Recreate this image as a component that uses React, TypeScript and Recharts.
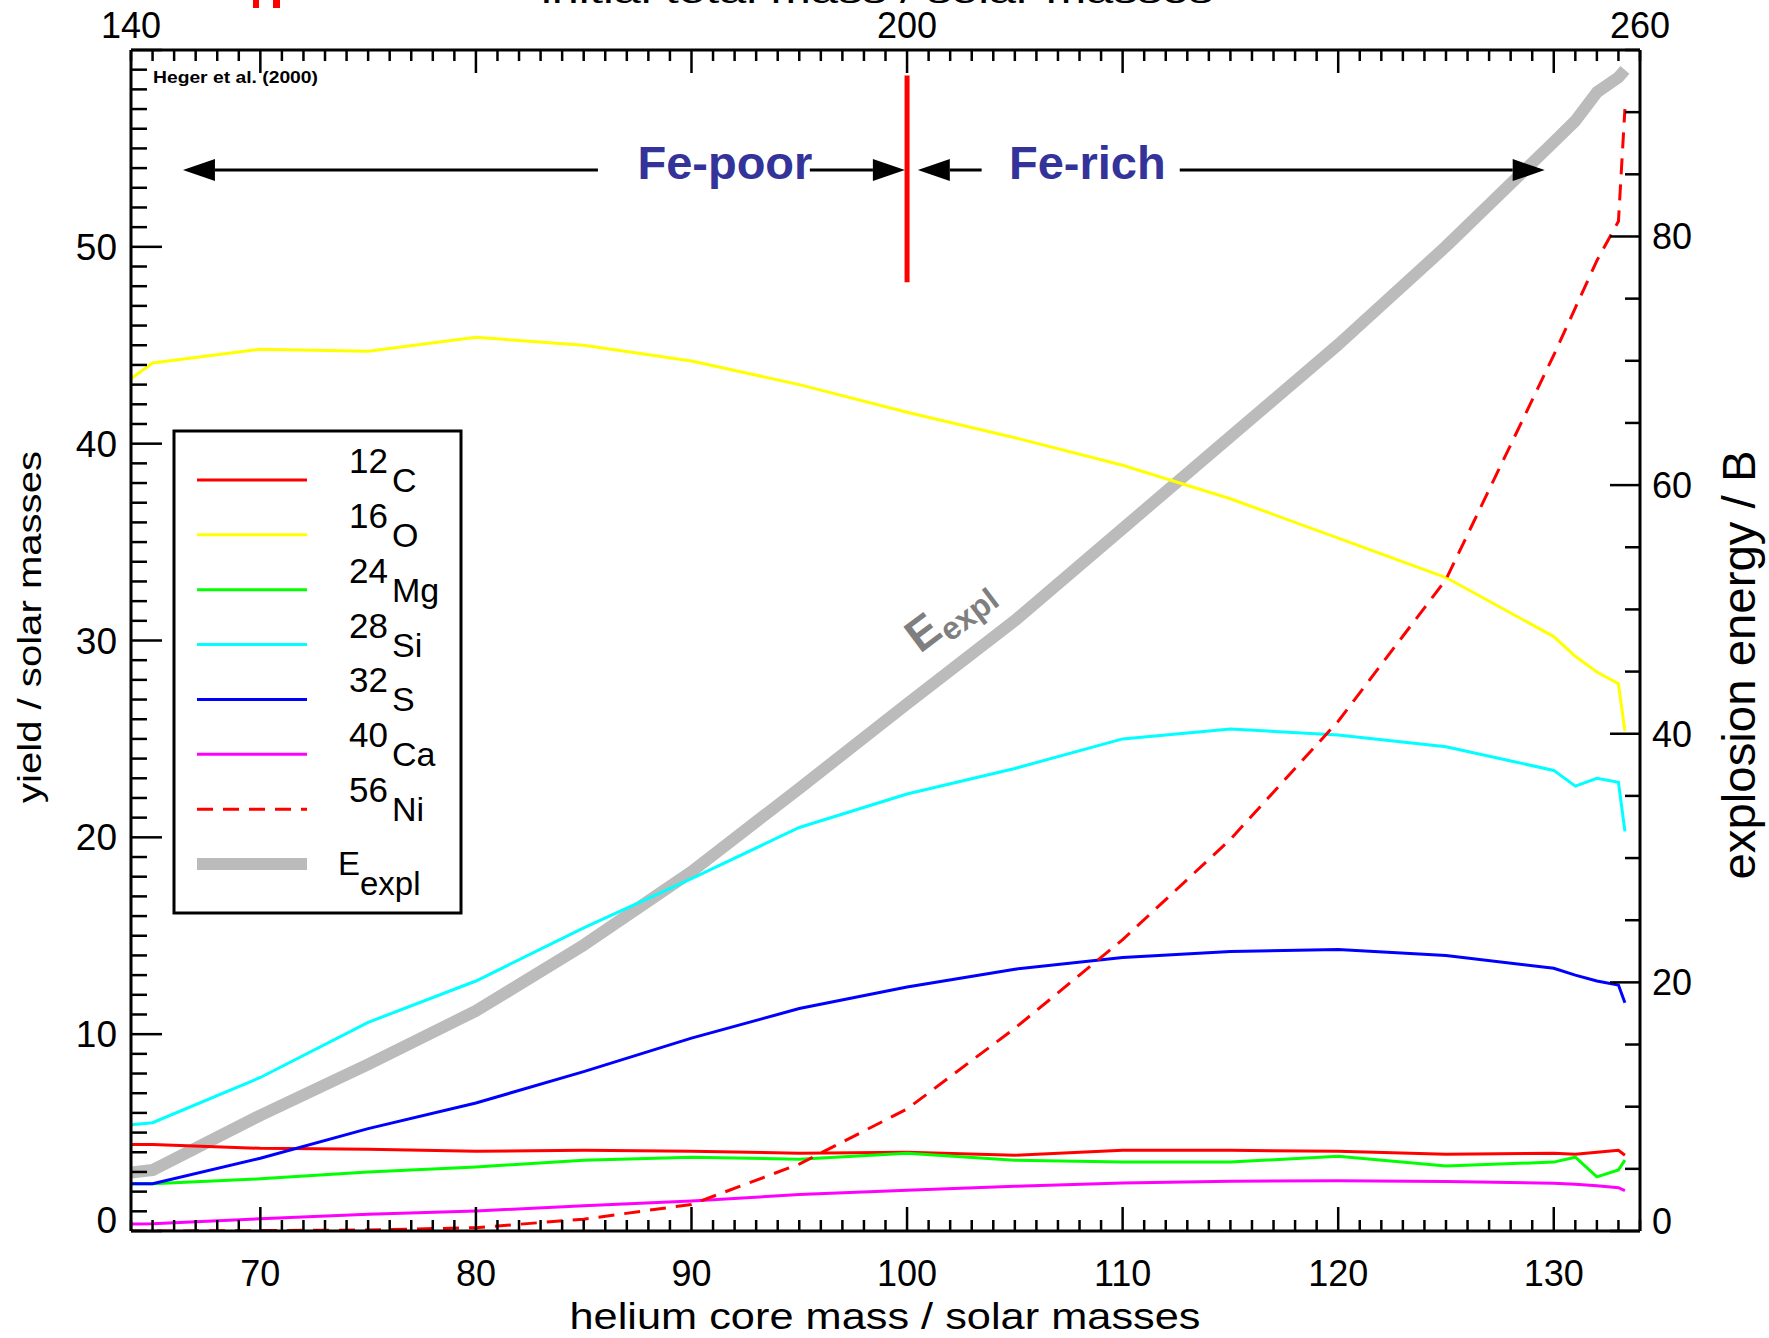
import { LineChart, Line, XAxis, YAxis, ReferenceLine, ReferenceDot } from 'recharts';

// helium core mass of each model (solar masses)
const heliumMass = [64, 65, 70, 75, 80, 85, 90, 95, 100, 105, 110, 115, 120, 125, 130, 131, 132, 133, 133.3];

// yields / solar masses
const c12 = [4.4, 4.4, 4.2, 4.15, 4.05, 4.1, 4.05, 3.95, 4.0, 3.85, 4.1, 4.1, 4.05, 3.9, 3.95, 3.9, 4.0, 4.1, 3.85];
const o16 = [43.3, 44.1, 44.8, 44.7, 45.4, 45.0, 44.2, 43.0, 41.6, 40.3, 38.9, 37.2, 35.2, 33.2, 30.2, 29.2, 28.4, 27.8, 25.4];
const mg24 = [2.4, 2.4, 2.65, 3.0, 3.25, 3.6, 3.75, 3.65, 3.95, 3.6, 3.5, 3.5, 3.8, 3.3, 3.5, 3.75, 2.75, 3.1, 3.6];
const si28 = [5.4, 5.5, 7.8, 10.6, 12.7, 15.4, 17.9, 20.5, 22.2, 23.5, 25.0, 25.5, 25.2, 24.6, 23.4, 22.6, 23.0, 22.8, 20.3];
const s32 = [2.4, 2.4, 3.7, 5.2, 6.5, 8.1, 9.8, 11.3, 12.4, 13.3, 13.9, 14.2, 14.3, 14.0, 13.35, 13.0, 12.7, 12.5, 11.6];
const ca40 = [0.35, 0.37, 0.62, 0.85, 1.02, 1.28, 1.52, 1.85, 2.07, 2.27, 2.44, 2.53, 2.55, 2.52, 2.43, 2.38, 2.3, 2.2, 2.05];
const ni56 = [0, 0, 0.02, 0.05, 0.17, 0.6, 1.35, 3.4, 6.2, 10.3, 14.8, 19.9, 25.9, 33.1, 44.5, 46.9, 49.3, 51.3, 57.0];

// explosion energy / B (right axis)
const eExpl = [4.7, 4.9, 9.3, 13.4, 17.7, 23.0, 28.9, 35.6, 42.4, 49.1, 56.5, 63.9, 71.3, 79.2, 87.6, 89.3, 91.6, 92.8, 93.4];

// axis ticks
const bottomLabels = [70, 80, 90, 100, 110, 120, 130];
const topLabels: Record<number, string> = { 64: '140', 100: '200', 134: '260' };
const leftLabels = [0, 10, 20, 30, 40, 50];
const rightLabels = [0, 20, 40, 60, 80];

const range = (a: number, b: number, step = 1) => {
    const out: number[] = [];
    for (let v = a; v <= b; v += step) out.push(v);
    return out;
};
const xTicks = range(64, 134);
const leftTicks = range(0, 60);
const rightTicks = range(0, 95, 5);

const isotopes = [
    { key: 'c12', num: '12', el: 'C', color: '#ff0000', values: c12, dash: undefined as string | undefined },
    { key: 'o16', num: '16', el: 'O', color: '#ffff00', values: o16, dash: undefined },
    { key: 'mg24', num: '24', el: 'Mg', color: '#00ff00', values: mg24, dash: undefined },
    { key: 'si28', num: '28', el: 'Si', color: '#00ffff', values: si28, dash: undefined },
    { key: 's32', num: '32', el: 'S', color: '#0000ff', values: s32, dash: undefined },
    { key: 'ca40', num: '40', el: 'Ca', color: '#ff00ff', values: ca40, dash: undefined },
    { key: 'ni56', num: '56', el: 'Ni', color: '#ff0000', values: ni56, dash: '16 10' },
];

const rows = heliumMass.map((m, i) => {
    const row: Record<string, number> = { m, eExpl: eExpl[i] };
    isotopes.forEach((s) => (row[s.key] = s.values[i]));
    return row;
});

const FONT = "'Liberation Sans', Arial, Helvetica, sans-serif";
const TICK_W = 2.5;

const BottomTick = (p: any) => {
    const v = p.payload.value;
    const major = v % 10 === 0;
    return (
        <g>
            <line x1={p.x} x2={p.x} y1={p.y} y2={p.y - (major ? 24 : 11)} stroke="#000" strokeWidth={TICK_W} />
            {bottomLabels.includes(v) && (
                <text x={p.x} y={p.y + 55} textAnchor="middle" fontSize={36} fontFamily={FONT} fill="#000">
                    {v}
                </text>
            )}
        </g>
    );
};

const TopTick = (p: any) => {
    const v = p.payload.value;
    const major = v % 10 === 0;
    return (
        <g>
            <line x1={p.x} x2={p.x} y1={p.y} y2={p.y + (major ? 23 : 11)} stroke="#000" strokeWidth={TICK_W} />
            {topLabels[v] && (
                <text x={p.x} y={p.y - 12} textAnchor="middle" fontSize={36} fontFamily={FONT} fill="#000">
                    {topLabels[v]}
                </text>
            )}
        </g>
    );
};

const LeftTick = (p: any) => {
    const v = p.payload.value;
    const major = v % 10 === 0;
    return (
        <g>
            <line x1={p.x} x2={p.x + (major ? 31 : 16)} y1={p.y} y2={p.y} stroke="#000" strokeWidth={TICK_W} />
            {leftLabels.includes(v) && (
                <text x={p.x - 14} y={p.y + 13 - (v === 0 ? 11 : 0)} textAnchor="end" fontSize={37} fontFamily={FONT} fill="#000">
                    {v}
                </text>
            )}
        </g>
    );
};

const RightTick = (p: any) => {
    const v = p.payload.value;
    const major = v % 20 === 0;
    return (
        <g>
            <line x1={p.x} x2={p.x - (major ? 30 : 15)} y1={p.y} y2={p.y} stroke="#000" strokeWidth={TICK_W} />
            {rightLabels.includes(v) && (
                <text x={p.x + 12} y={p.y + 13 - (v === 0 ? 10 : 0)} textAnchor="start" fontSize={36} fontFamily={FONT} fill="#000">
                    {v}
                </text>
            )}
        </g>
    );
};

// horizontal line ending in a filled arrow head at (x2, y2)
const Arrow = (p: any) => {
    const { x1, y1, x2, y2 } = p;
    const dir = Math.sign(x2 - x1);
    const base = x2 - dir * 32;
    return (
        <g>
            <line x1={x1} y1={y1} x2={base} y2={y2} stroke="#000" strokeWidth={3} />
            <polygon points={`${x2},${y2} ${base},${y2 - 11} ${base},${y2 + 11}`} fill="#000" />
        </g>
    );
};

const RegionLabel = (text: string) => (p: any) => (
    <text x={p.cx} y={p.cy + 9} textAnchor="middle" fontSize={47} fontWeight="bold" fontFamily={FONT} fill="#333399">
        {text}
    </text>
);

const HegerLabel = (p: any) => (
    <text x={p.cx} y={p.cy} fontSize={16} fontWeight="bold" fontFamily={FONT} fill="#000" textLength={165} lengthAdjust="spacingAndGlyphs">
        Heger et al. (2000)
    </text>
);

const EnergyLabel = (p: any) => (
    <g transform={`translate(${p.cx},${p.cy}) rotate(-37)`}>
        <text x={0} y={0} fontSize={46} fontWeight="bold" fontFamily={FONT} fill="#7f7f7f">
            E<tspan fontSize={32} dy={9}>expl</tspan>
        </text>
    </g>
);

const ARROW_Y = 53.9;

const LegendBox = () => {
    const top = 431;
    const rowY = (i: number) => 480 + i * 54.86;
    return (
        <g>
            <rect x={174} y={top} width={287} height={482} fill="#fff" stroke="#000" strokeWidth={3} />
            {isotopes.map((s, i) => (
                <g key={s.key}>
                    <line x1={197} x2={307} y1={rowY(i)} y2={rowY(i)} stroke={s.color} strokeWidth={3} strokeDasharray={s.dash} />
                    <text x={349} y={rowY(i) - 7} fontSize={35} fontFamily={FONT} fill="#000">{s.num}</text>
                    <text x={392} y={rowY(i) + 12} fontSize={34} fontFamily={FONT} fill="#000">{s.el}</text>
                </g>
            ))}
            <line x1={197} x2={307} y1={rowY(7)} y2={rowY(7)} stroke="#bbbbbb" strokeWidth={12} />
            <text x={338} y={rowY(7) + 11} fontSize={33} fontFamily={FONT} fill="#000">E</text>
            <text x={360} y={rowY(7) + 31} fontSize={33} fontFamily={FONT} fill="#000">expl</text>
        </g>
    );
};

export default function App() {
    return (
        <div style={{ position: 'absolute', left: 0, top: 0, width: 1769, height: 1338, background: '#fff', overflow: 'hidden' }}>
            <LineChart width={1769} height={1338} data={rows} margin={{ top: 0, right: 0, bottom: 0, left: 0 }}>
                <XAxis
                    xAxisId="bottom"
                    dataKey="m"
                    type="number"
                    domain={[64, 134]}
                    ticks={xTicks}
                    interval={0}
                    tickSize={0}
                    tickMargin={0}
                    height={107}
                    allowDataOverflow
                    axisLine={{ stroke: '#000', strokeWidth: 3 }}
                    tick={BottomTick}
                />
                <XAxis
                    xAxisId="top"
                    orientation="top"
                    dataKey="m"
                    type="number"
                    domain={[64, 134]}
                    ticks={xTicks}
                    interval={0}
                    tickSize={0}
                    tickMargin={0}
                    height={50}
                    allowDataOverflow
                    axisLine={{ stroke: '#000', strokeWidth: 3 }}
                    tick={TopTick}
                />
                <YAxis
                    yAxisId="left"
                    type="number"
                    domain={[0, 60]}
                    ticks={leftTicks}
                    interval={0}
                    tickSize={0}
                    tickMargin={0}
                    width={131}
                    allowDataOverflow
                    axisLine={{ stroke: '#000', strokeWidth: 3 }}
                    tick={LeftTick}
                />
                <YAxis
                    yAxisId="right"
                    orientation="right"
                    type="number"
                    domain={[0, 95]}
                    ticks={rightTicks}
                    interval={0}
                    tickSize={0}
                    tickMargin={0}
                    width={129}
                    allowDataOverflow
                    axisLine={{ stroke: '#000', strokeWidth: 3 }}
                    tick={RightTick}
                />

                <Line
                    xAxisId="bottom"
                    yAxisId="right"
                    dataKey="eExpl"
                    type="linear"
                    stroke="#bbbbbb"
                    strokeWidth={12}
                    strokeLinejoin="round"
                    dot={false}
                    isAnimationActive={false}
                />
                {isotopes.map((s) => (
                    <Line
                        key={s.key}
                        xAxisId="bottom"
                        yAxisId="left"
                        dataKey={s.key}
                        type="linear"
                        stroke={s.color}
                        strokeWidth={3}
                        strokeDasharray={s.dash}
                        dot={false}
                        isAnimationActive={false}
                    />
                ))}

                {/* Fe-poor / Fe-rich boundary and arrows */}
                <ReferenceLine
                    xAxisId="bottom"
                    yAxisId="left"
                    segment={[{ x: 100, y: 48.2 }, { x: 100, y: 58.7 }]}
                    stroke="#ff0000"
                    strokeWidth={5}
                />
                <ReferenceLine xAxisId="bottom" yAxisId="left" segment={[{ x: 85.66, y: ARROW_Y }, { x: 66.41, y: ARROW_Y }]} shape={Arrow} />
                <ReferenceLine xAxisId="bottom" yAxisId="left" segment={[{ x: 95.49, y: ARROW_Y }, { x: 99.9, y: ARROW_Y }]} shape={Arrow} />
                <ReferenceLine xAxisId="bottom" yAxisId="left" segment={[{ x: 103.46, y: ARROW_Y }, { x: 100.5, y: ARROW_Y }]} shape={Arrow} />
                <ReferenceLine xAxisId="bottom" yAxisId="left" segment={[{ x: 112.65, y: ARROW_Y }, { x: 129.58, y: ARROW_Y }]} shape={Arrow} />
                <ReferenceDot xAxisId="bottom" yAxisId="left" x={91.55} y={ARROW_Y} shape={RegionLabel('Fe-poor')} />
                <ReferenceDot xAxisId="bottom" yAxisId="left" x={108.36} y={ARROW_Y} shape={RegionLabel('Fe-rich')} />
                <ReferenceDot xAxisId="bottom" yAxisId="left" x={65.02} y={58.33} shape={HegerLabel} />
                <ReferenceDot xAxisId="bottom" yAxisId="left" x={100.6} y={29.32} shape={EnergyLabel} />
            </LineChart>

            <svg width={1769} height={1338} style={{ position: 'absolute', left: 0, top: 0, pointerEvents: 'none' }}>
                {/* top axis title, cut off by the image edge */}
                <text x={877} y={3} textAnchor="middle" fontSize={34} fontFamily={FONT} fill="#000" textLength={672} lengthAdjust="spacingAndGlyphs">
                    initial total mass / solar masses
                </text>
                <rect x={253} y={0} width={6} height={8} fill="#ff0000" />
                <rect x={273} y={0} width={7} height={8} fill="#ff0000" />

                <text x={885} y={1329} textAnchor="middle" fontSize={37} fontFamily={FONT} fill="#000" textLength={631} lengthAdjust="spacingAndGlyphs">
                    helium core mass / solar masses
                </text>
                <text transform="translate(41,627) rotate(-90)" textAnchor="middle" fontSize={33} fontFamily={FONT} fill="#000" textLength={352} lengthAdjust="spacingAndGlyphs">
                    yield / solar masses
                </text>
                <text transform="translate(1755,665) rotate(-90)" textAnchor="middle" fontSize={47} fontFamily={FONT} fill="#000" textLength={429} lengthAdjust="spacingAndGlyphs">
                    explosion energy / B
                </text>

                <LegendBox />
            </svg>
        </div>
    );
}
